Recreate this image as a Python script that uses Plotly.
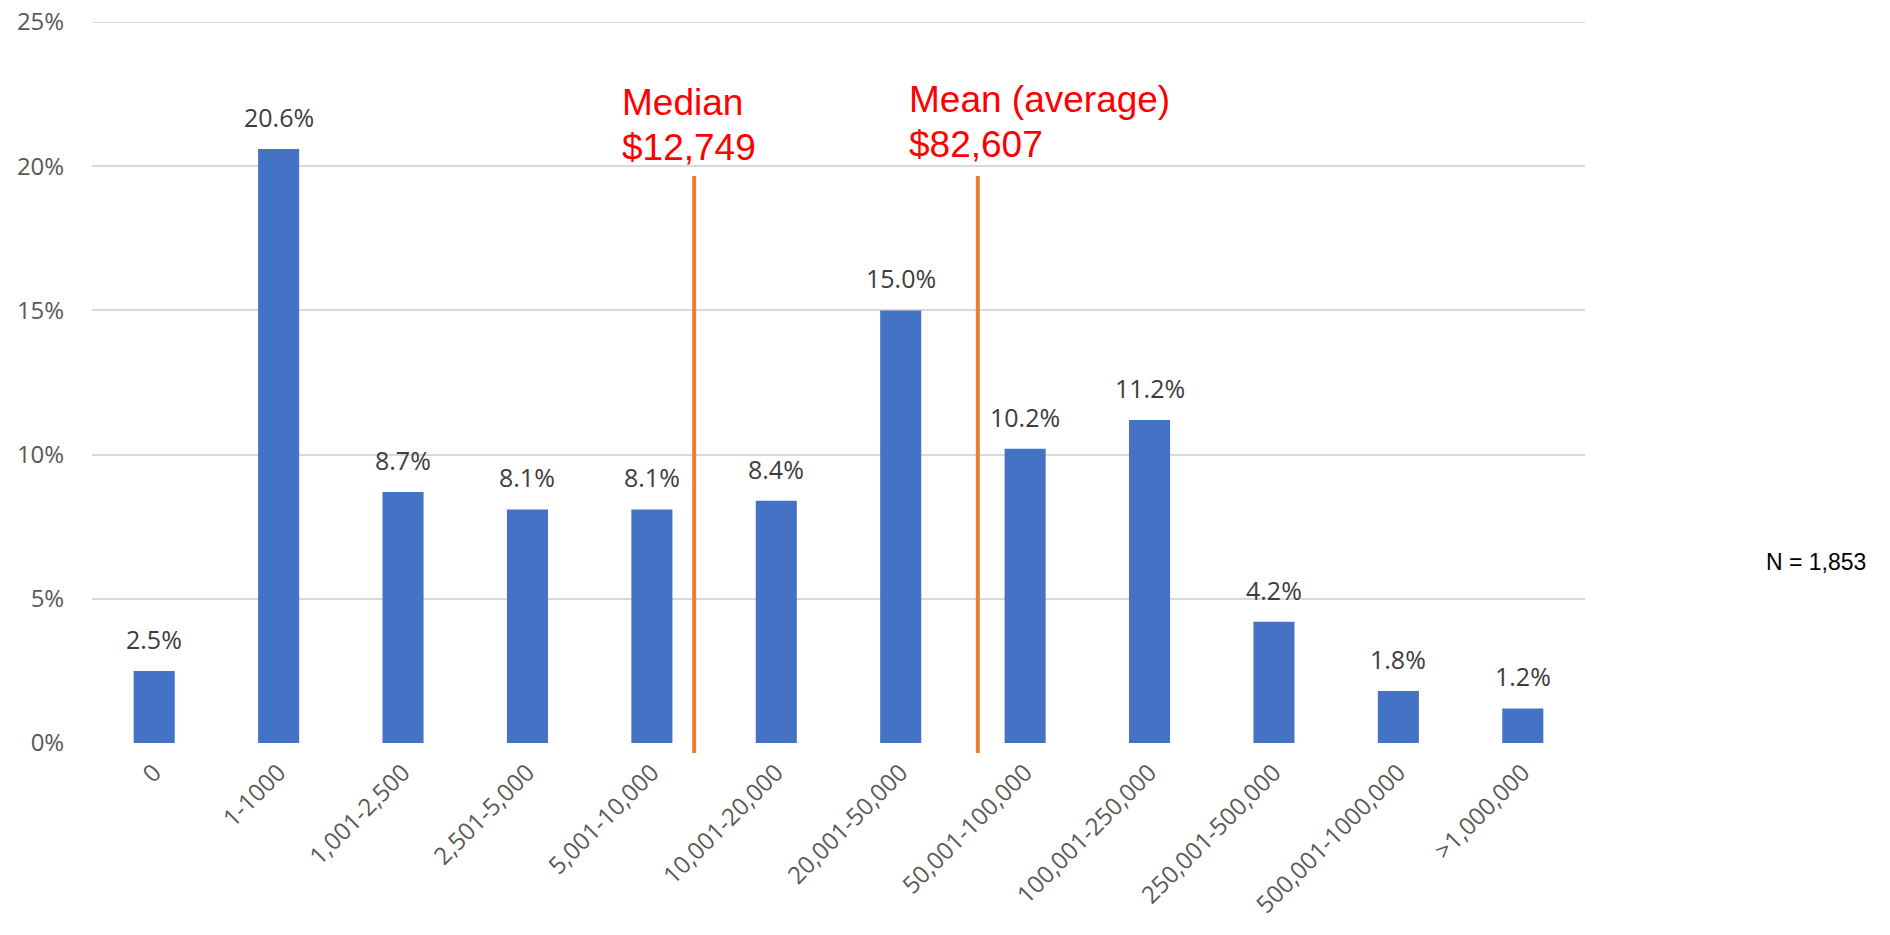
import plotly.graph_objects as go

# Income brackets and share of respondents (%)
categories = ["0", "1-1000", "1,001-2,500", "2,501-5,000", "5,001-10,000",
              "10,001-20,000", "20,001-50,000", "50,001-100,000", "100,001-250,000",
              "250,001-500,000", "500,001-1000,000", ">1,000,000"]
shares = [2.5, 20.6, 8.7, 8.1, 8.1, 8.4, 15.0, 10.2, 11.2, 4.2, 1.8, 1.2]
y_ticks = [0, 5, 10, 15, 20, 25]

# Reference markers (position on category axis, label lines)
median_pos = 4.34
median_lines = ["Median", "$12,749"]
mean_pos = 6.62
mean_lines = ["Mean (average)", "$82,607"]
n_text = "N = 1,853"

BLUE = "#4472C4"
ORANGE = "#ED7D31"
RED = "#FF0000"
GRID = "#D9D9D9"
Y_MAX = 25

fig = go.Figure()
fig.add_trace(go.Bar(x=list(range(len(categories))), y=shares, marker_color=BLUE,
                     marker_line_width=0, hoverinfo="skip"))

# data labels above each bar
for i, v in enumerate(shares):
    fig.add_annotation(x=i, y=v, text=f"{v:.1f}%", showarrow=False, yshift=32,
                       xanchor="center", yanchor="middle",
                       font=dict(family="Open Sans", size=25, color="#3d3d3d"))

# top gridline sits on the plot edge, plotly drops it, so draw it
fig.add_shape(type="line", xref="paper", yref="y", x0=0, x1=1, y0=Y_MAX, y1=Y_MAX,
              line=dict(color=GRID, width=2), layer="below")

# median / mean vertical lines (paper refs so they can poke below the axis)
for pos in (median_pos, mean_pos):
    px_ = (pos + 0.5) / len(categories)
    fig.add_shape(type="line", xref="paper", yref="paper", x0=px_, x1=px_,
                  y0=-0.35 / Y_MAX, y1=19.66 / Y_MAX,
                  line=dict(color=ORANGE, width=4), layer="above")

# red captions
for left, lines, ys in ((3.74, median_lines, (22.22, 20.64)), (6.05, mean_lines, (22.32, 20.76))):
    for txt, yy in zip(lines, ys):
        fig.add_annotation(x=left, y=yy, text=txt, showarrow=False, xanchor="left", yanchor="middle",
                           font=dict(family="Arial, Liberation Sans", size=37, color=RED))

fig.add_annotation(xref="paper", yref="paper", x=1.155, y=0.251, text=n_text, showarrow=False,
                   xanchor="center", yanchor="middle",
                   font=dict(family="Arial, Liberation Sans", size=23, color="#000000"))

fig.update_layout(
    width=1890, height=935,
    margin=dict(l=92, r=305, t=22, b=192),
    plot_bgcolor="white", paper_bgcolor="white",
    showlegend=False, bargap=0.67,
)
fig.update_xaxes(
    tickmode="array", tickvals=list(range(len(categories))), ticktext=categories,
    range=[-0.5, len(categories) - 0.5], tickangle=-45, automargin=False,
    tickfont=dict(family="Open Sans", size=24, color="#595959"),
    ticks="outside", ticklen=5, tickcolor="rgba(0,0,0,0)",
    showline=False, showgrid=False, zeroline=False,
)
fig.update_yaxes(
    range=[0, Y_MAX], tickvals=y_ticks, ticktext=[f"{t}%" for t in y_ticks], automargin=False,
    tickfont=dict(family="Open Sans", size=24, color="#595959"),
    ticks="outside", ticklen=22, tickcolor="rgba(0,0,0,0)",
    showgrid=True, gridcolor=GRID, gridwidth=2, zeroline=False, showline=False,
)

# drop the default 8px body margin so the figure fills the window exactly
fig.write_html("out.html", config={"displayModeBar": False},
               post_script="document.body.style.margin='0';")
